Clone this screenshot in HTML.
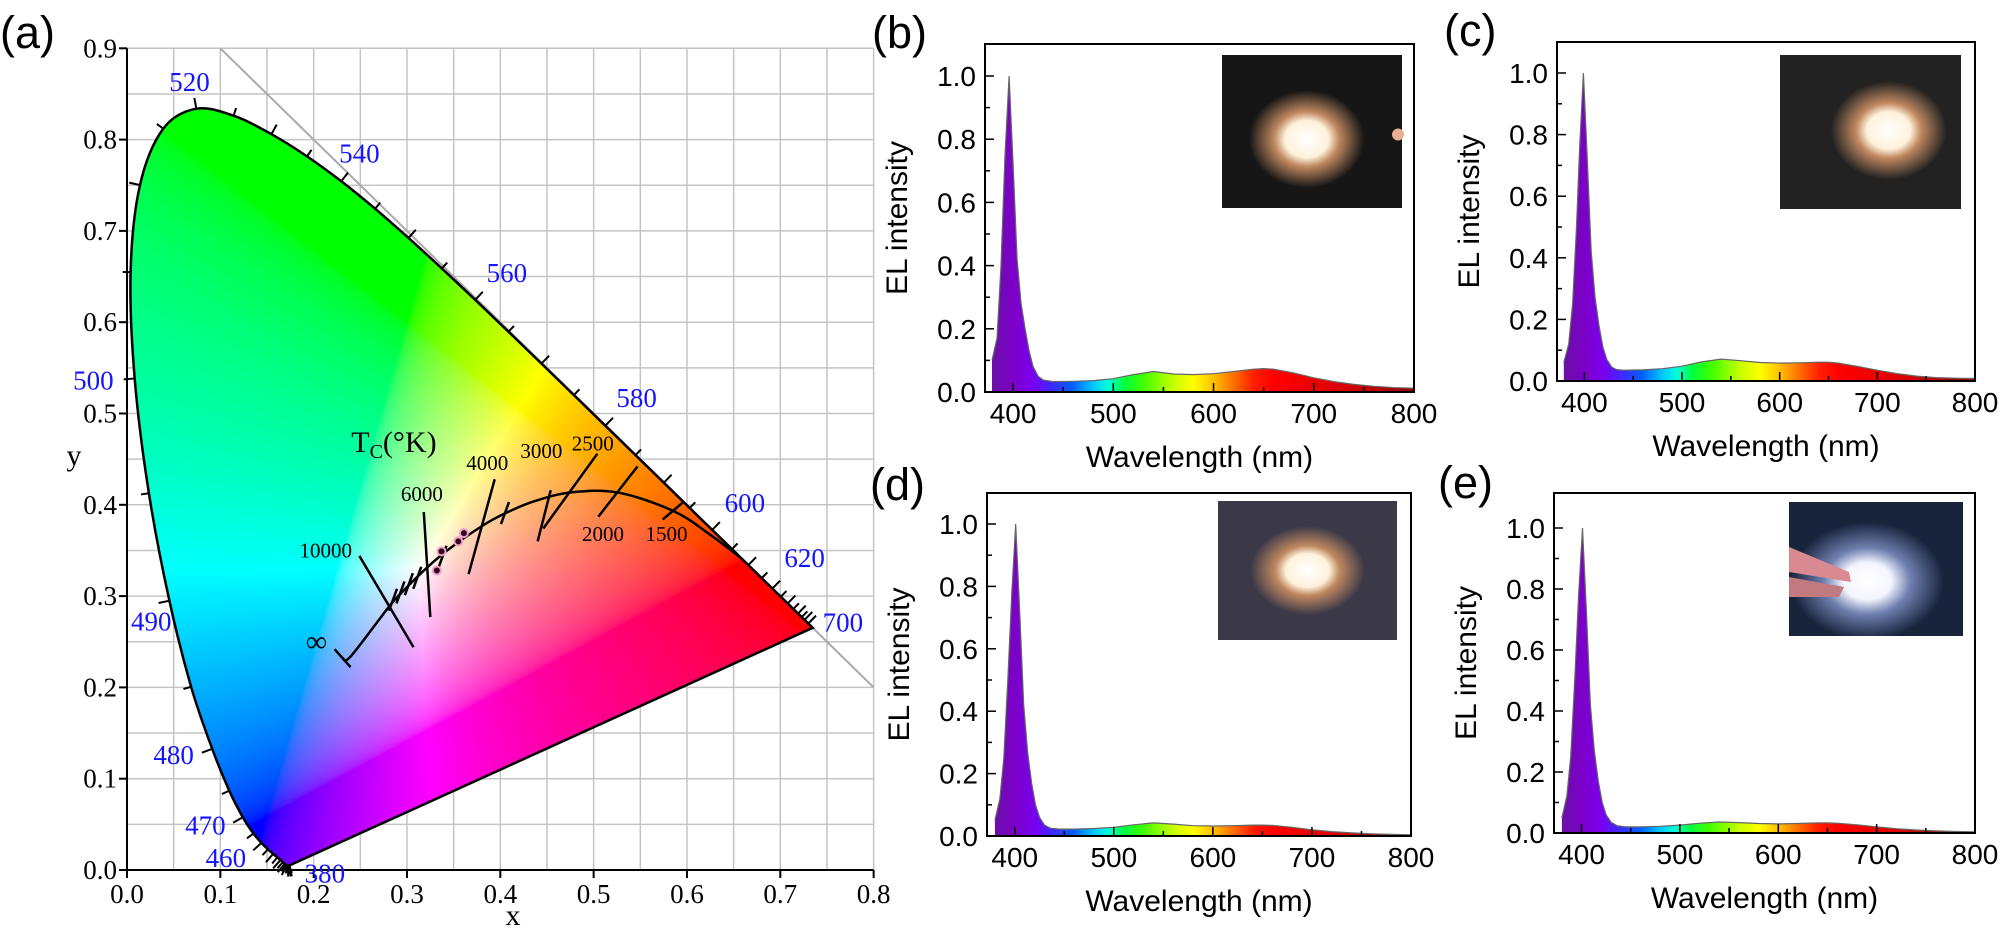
<!DOCTYPE html>
<html><head><meta charset="utf-8"><style>
html,body{margin:0;padding:0;background:#fff;}
#wrap{position:relative;width:2003px;height:935px;overflow:hidden;background:#fff;}
svg,canvas{position:absolute;left:0;top:0;}
</style></head><body>
<div id="wrap">
<svg id="bg" width="2003" height="935"></svg>
<canvas id="cv" width="2003" height="935"></canvas>
<svg id="fg" width="2003" height="935"></svg>
</div>
<script>
// ---------- CIE data ----------
const locusNm = [380,385,390,395,400,405,410,415,420,425,430,435,440,445,450,455,460,465,470,475,480,485,490,495,500,505,510,515,520,525,530,535,540,545,550,555,560,565,570,575,580,585,590,595,600,605,610,615,620,625,630,635,640,645,650,660,670,680,700];
const locusX = [0.1741,0.1740,0.1738,0.1736,0.1733,0.1730,0.1726,0.1721,0.1714,0.1703,0.1689,0.1669,0.1644,0.1611,0.1566,0.1510,0.1440,0.1355,0.1241,0.1096,0.0913,0.0687,0.0454,0.0235,0.0082,0.0039,0.0139,0.0389,0.0743,0.1142,0.1547,0.1929,0.2296,0.2658,0.3016,0.3373,0.3731,0.4087,0.4441,0.4788,0.5125,0.5448,0.5752,0.6029,0.6270,0.6482,0.6658,0.6801,0.6915,0.7006,0.7079,0.7140,0.7190,0.7230,0.7260,0.7300,0.7320,0.7334,0.7347];
const locusY = [0.0050,0.0050,0.0049,0.0049,0.0048,0.0048,0.0048,0.0048,0.0051,0.0058,0.0069,0.0086,0.0109,0.0138,0.0177,0.0227,0.0297,0.0399,0.0578,0.0868,0.1327,0.2007,0.2950,0.4127,0.5384,0.6548,0.7502,0.8120,0.8338,0.8262,0.8059,0.7816,0.7543,0.7243,0.6923,0.6589,0.6245,0.5896,0.5547,0.5202,0.4866,0.4544,0.4242,0.3965,0.3725,0.3514,0.3340,0.3197,0.3083,0.2993,0.2920,0.2859,0.2809,0.2770,0.2740,0.2700,0.2680,0.2666,0.2653];
const nmLabels = ["520","540","560","580","600","620","700","500","490","480","470","460","380"];
const nmLabelX = [0.067,0.249,0.407,0.546,0.662,0.726,0.767,-0.036,0.026,0.050,0.084,0.106,0.212];
const nmLabelY = [0.863,0.785,0.654,0.517,0.402,0.342,0.271,0.536,0.272,0.126,0.049,0.013,-0.004];
const planckX = [0.231,0.2399,0.2807,0.2952,0.3221,0.3451,0.3805,0.4053,0.4369,0.4769,0.5267,0.5857,0.625,0.66];
const planckY = [0.232,0.2342,0.2884,0.3048,0.3318,0.3516,0.3768,0.3907,0.4041,0.4137,0.4133,0.3931,0.367,0.340];
const isoLabels = ["10000","6000","4000","3000","2500","2000","1500"];
const isoX1 = [0.249,0.318,0.394,0.454,0.504,0.547,0.595];
const isoY1 = [0.344,0.392,0.428,0.416,0.456,0.442,0.402];
const isoX2 = [0.307,0.325,0.366,0.440,0.446,0.505,0.574];
const isoY2 = [0.244,0.277,0.324,0.360,0.374,0.387,0.384];
const isoLabelX = [0.213,0.316,0.386,0.444,0.499,0.510,0.578];
const isoLabelY = [0.350,0.412,0.446,0.459,0.467,0.368,0.368];
const smallTickX = [0.285,0.293,0.302,0.311,0.338,0.405];
const smallTickY = [0.296,0.304,0.313,0.320,0.343,0.391];
const sampleX = [0.332,0.337,0.355,0.361];
const sampleY = [0.328,0.349,0.360,0.369];
const axisXTicks = ["0.0","0.1","0.2","0.3","0.4","0.5","0.6","0.7","0.8"];
const axisYTicks = ["0.0","0.1","0.2","0.3","0.4","0.5","0.6","0.7","0.8","0.9"];

// ---------- spectra data ----------
const wlB = [379,384,388,392,396,400,404,408,412,416,420,425,430,440,460,480,500,520,540,560,580,600,620,640,650,660,680,700,720,740,760,780,800];
const ivB = [0.10,0.17,0.40,0.75,1.00,0.72,0.42,0.28,0.20,0.13,0.08,0.05,0.038,0.033,0.034,0.036,0.042,0.055,0.065,0.057,0.055,0.058,0.065,0.072,0.074,0.072,0.060,0.045,0.033,0.024,0.018,0.014,0.012];
const wlC = [379,384,388,392,395,399,403,407,411,415,419,423,428,433,440,460,480,500,520,540,560,580,600,620,640,650,660,680,700,720,740,760,780,800];
const ivC = [0.06,0.12,0.25,0.50,0.75,1.00,0.72,0.42,0.27,0.18,0.11,0.07,0.045,0.037,0.035,0.036,0.04,0.048,0.062,0.071,0.066,0.06,0.058,0.059,0.061,0.061,0.058,0.047,0.035,0.024,0.016,0.011,0.009,0.008];
const wlD = [380,385,389,393,397,401,405,409,413,417,421,425,430,436,445,460,480,500,520,540,560,580,600,620,640,650,660,680,700,720,740,760,780,800];
const ivD = [0.05,0.12,0.25,0.50,0.78,1.00,0.72,0.42,0.27,0.17,0.10,0.06,0.035,0.025,0.022,0.022,0.024,0.028,0.036,0.042,0.038,0.033,0.032,0.033,0.035,0.035,0.034,0.028,0.02,0.014,0.01,0.007,0.005,0.004];
const wlE = [380,385,389,393,397,401,405,409,413,417,421,425,430,436,445,460,480,500,520,540,560,580,600,620,640,650,660,680,700,720,740,760,780,800];
const ivE = [0.05,0.12,0.25,0.50,0.78,1.00,0.72,0.42,0.27,0.17,0.10,0.06,0.035,0.024,0.02,0.02,0.022,0.026,0.032,0.036,0.034,0.031,0.03,0.031,0.033,0.033,0.032,0.027,0.02,0.014,0.01,0.007,0.005,0.004];
const specXTicks = ["400","500","600","700","800"];
const specYTicks = ["0.0","0.2","0.4","0.6","0.8","1.0"];

const NS = "http://www.w3.org/2000/svg";
const bg = document.getElementById('bg'), fg = document.getElementById('fg');
function mk(parent, tag, attrs, text){
  const e = document.createElementNS(NS, tag);
  for (const k in attrs) e.setAttribute(k, attrs[k]);
  if (text !== undefined) e.textContent = text;
  parent.appendChild(e); return e;
}
const AX = d => 127 + d*933.3;
const AY = d => 870 - d*913;

// smooth path through points (Catmull-Rom)
function smoothPts(pts, closed){
  let s = 'M'+pts[0][0].toFixed(1)+','+pts[0][1].toFixed(1);
  const n = pts.length;
  for (let i=0;i<n-1;i++){
    const p0 = pts[Math.max(i-1,0)], p1=pts[i], p2=pts[i+1], p3=pts[Math.min(i+2,n-1)];
    const c1x=p1[0]+(p2[0]-p0[0])/6, c1y=p1[1]+(p2[1]-p0[1])/6;
    const c2x=p2[0]-(p3[0]-p1[0])/6, c2y=p2[1]-(p3[1]-p1[1])/6;
    s += ' C'+c1x.toFixed(1)+','+c1y.toFixed(1)+' '+c2x.toFixed(1)+','+c2y.toFixed(1)+' '+p2[0].toFixed(1)+','+p2[1].toFixed(1);
  }
  if (closed) s += ' Z';
  return s;
}
const locusPts = locusX.map((x,i)=>[AX(x),AY(locusY[i])]);
const locusD = smoothPts(locusPts,true);

// grid
for (let i=1;i<=16;i++){
  const g = mk(bg,'line',{x1:AX(i*0.05),x2:AX(i*0.05),y1:AY(0),y2:AY(0.9),stroke:'#c4c4c4','stroke-width':1.5});
  
  
}
for (let i=1;i<=18;i++){
  const g = mk(bg,'line',{x1:AX(0),x2:AX(0.8),y1:AY(i*0.05),y2:AY(i*0.05),stroke:'#c4c4c4','stroke-width':1.5});
  
  
}
const diag = mk(bg,'line',{x1:AX(0.1),y1:AY(0.9),x2:AX(0.8),y2:AY(0.2),stroke:'#aaaaaa','stroke-width':2});



// color fill on canvas
(function(){
  const cv = document.getElementById('cv'); const ctx = cv.getContext('2d');
  const x0=110,y0=90,w=720,h=790;
  const off = document.createElement('canvas'); off.width=w; off.height=h;
  const octx = off.getContext('2d'); const img = octx.createImageData(w,h);
  for (let py=0;py<h;py++){
    for (let px=0;px<w;px++){
      const dx = (x0+px-127)/933.3, dy = (870-(y0+py))/913;
      const yy = Math.max(dy,0.002);
      const X = dx/yy, Y=1, Z=(1-dx-yy)/yy;
      let r = 3.2406*X-1.5372*Y-0.4986*Z, g=-0.9689*X+1.8758*Y+0.0415*Z, b=0.0557*X-0.2040*Y+1.0570*Z;
      r=Math.max(r,0); g=Math.max(g,0); b=Math.max(b,0);
      const mx = Math.max(r,g,b)||1; r/=mx; g/=mx; b/=mx;
      const gm = v => Math.round(255*Math.pow(v,1/2.2));
      const k=(py*w+px)*4; img.data[k]=gm(r); img.data[k+1]=gm(g); img.data[k+2]=gm(b); img.data[k+3]=255;
    }
  }
  octx.putImageData(img,0,0);
  const p = new Path2D(locusD);
  ctx.save(); ctx.clip(p); ctx.drawImage(off,x0,y0); ctx.restore();
})();

let e;
e = mk(fg,'line',{x1:AX(0),y1:AY(0),x2:AX(0),y2:AY(0.9),stroke:'#000','stroke-width':2});
 
e = mk(fg,'line',{x1:AX(0),y1:AY(0),x2:AX(0.8),y2:AY(0),stroke:'#000','stroke-width':2});
 
axisXTicks.forEach((t,i)=>{
  const d=i*0.1;
  const tk = mk(fg,'line',{x1:AX(d),x2:AX(d),y1:AY(0),y2:AY(0)+8,stroke:'#000','stroke-width':2});
   
  const lb = mk(fg,'text',{x:AX(d),y:AY(0)+33,'text-anchor':'middle','font-family':'"Liberation Serif",serif','font-size':27},t);
   
});
axisYTicks.forEach((t,i)=>{
  const d=i*0.1;
  const tk = mk(fg,'line',{x1:AX(0)-8,x2:AX(0),y1:AY(d),y2:AY(d),stroke:'#000','stroke-width':2});
   
  const lb = mk(fg,'text',{x:AX(0)-10,y:AY(d)+9,'text-anchor':'end','font-family':'"Liberation Serif",serif','font-size':27},t);
   
});
e = mk(fg,'text',{x:513,y:925,'text-anchor':'middle','font-family':'"Liberation Serif",serif','font-size':30},'x');
 
e = mk(fg,'text',{x:74,y:465,'text-anchor':'middle','font-family':'"Liberation Serif",serif','font-size':30},'y');
 

e = mk(fg,'path',{d:locusD,fill:'none',stroke:'#000','stroke-width':2.5});
 
for (let i=1;i<locusX.length-1;i++){
  if (locusNm[i]>660 || locusNm[i]%5) continue;
  const ax=AX(locusX[i-1]),ay=AY(locusY[i-1]),bx=AX(locusX[i+1]),by=AY(locusY[i+1]);
  let nx=-(by-ay), ny=(bx-ax); const L=Math.hypot(nx,ny)||1; nx/=L; ny/=L;
  const px=AX(locusX[i]),py=AY(locusY[i]);
  const cx=AX(0.33),cy=AY(0.33);
  if ((px-cx)*nx+(py-cy)*ny<0){nx=-nx;ny=-ny;}
  const len = locusNm[i]%10===0?11:8;
  const tk = mk(fg,'line',{x1:px,y1:py,x2:px+nx*len,y2:py+ny*len,stroke:'#000','stroke-width':2});
   
}
nmLabels.forEach((t,i)=>{
  const lb = mk(fg,'text',{x:AX(nmLabelX[i]),y:AY(nmLabelY[i])+9,'text-anchor':'middle','font-family':'"Liberation Serif",serif','font-size':27,fill:'#1414ff'},t);
   
});
e = mk(fg,'path',{d:smoothPts(planckX.map((x,i)=>[AX(x),AY(planckY[i])]),false),fill:'none',stroke:'#000','stroke-width':2.5});
 
e = mk(fg,'line',{x1:AX(planckX[0])-8,y1:AY(planckY[0])-9,x2:AX(planckX[0])+8,y2:AY(planckY[0])+9,stroke:'#000','stroke-width':2.5});
 
isoLabels.forEach((t,i)=>{
  const l = mk(fg,'line',{x1:AX(isoX1[i]),y1:AY(isoY1[i]),x2:AX(isoX2[i]),y2:AY(isoY2[i]),stroke:'#000','stroke-width':2.5});
   
  const lb = mk(fg,'text',{x:AX(isoLabelX[i]),y:AY(isoLabelY[i])+7,'text-anchor':'middle','font-family':'"Liberation Serif",serif','font-size':21},t);
   
});
smallTickX.forEach((x,i)=>{
  const l = mk(fg,'line',{x1:AX(x)+4,y1:AY(smallTickY[i])-11,x2:AX(x)-4,y2:AY(smallTickY[i])+11,stroke:'#000','stroke-width':2.5});
   
});
sampleX.forEach((x,i)=>{
  const c = mk(fg,'circle',{cx:AX(x),cy:AY(sampleY[i]),r:4,fill:'#300020',stroke:'#f0a0c8','stroke-width':2});
   
});
e = mk(fg,'text',{x:AX(0.286),y:AY(0.469)+10,'text-anchor':'middle','font-family':'"Liberation Serif",serif','font-size':30});
 
mk(e,'tspan',{},'T'); mk(e,'tspan',{'font-size':20,dy:6},'C'); mk(e,'tspan',{dy:-6},'(°K)');
e = mk(fg,'text',{x:AX(0.203),y:AY(0.248)+8,'text-anchor':'middle','font-family':'"Liberation Serif",serif','font-size':30},'∞');
 

[['(a)',0,48],['(b)',872,48],['(c)',1444,46],['(d)',870,500],['(e)',1438,498]].forEach(p=>{
  const t = mk(fg,'text',{x:p[1],y:p[2],'font-family':'"Liberation Sans",sans-serif','font-size':45},p[0]);
   
});

// ---------- spectra ----------
const defs = mk(fg,'defs',{});
const stopsNm = [380,400,420,440,460,480,495,510,530,560,580,600,620,640,660,720,800];
const stopsCol = ['#6a10a8','#7c00c8','#7a00f0','#3a2cff','#0060ff','#00c8ff','#00ffd8','#00ff40','#40ff00','#c8ff00','#ffff00','#ffc000','#ff7000','#ff2000','#ff0000','#e00000','#9a0000'];
const panels = [
  {id:'b',l:985,t:44,r:1414,b:392,y0:392,y1:76,wl:wlB,iv:ivB,ins:[1222,55,180,153]},
  {id:'c',l:1557,t:42,r:1975,b:381,y0:381,y1:73,wl:wlC,iv:ivC,ins:[1780,55,181,154]},
  {id:'d',l:987,t:493,r:1411,b:836,y0:836,y1:524,wl:wlD,iv:ivD,ins:[1218,501,179,139]},
  {id:'e',l:1554,t:493,r:1975,b:833,y0:833,y1:528,wl:wlE,iv:ivE,ins:[1789,502,174,134]}
];
panels.forEach(P=>{
  const X = w => P.l + (w-372)/(800-372)*(P.r-P.l);
  const Y = v => P.y0 + (P.y1-P.y0)*v;
  const g = mk(fg,'g',{});
   
  const grad = mk(defs,'linearGradient',{id:'rg'+P.id,gradientUnits:'userSpaceOnUse',x1:X(380),x2:X(800),y1:0,y2:0});
  stopsNm.forEach((n,i)=>mk(grad,'stop',{offset:((n-380)/420).toFixed(3),'stop-color':stopsCol[i]}));
  let pd = 'M'+X(P.wl[0])+','+Y(0);
  P.wl.forEach((w,i)=>{ pd += ' L'+X(w).toFixed(1)+','+Y(P.iv[i]).toFixed(1); });
  pd += ' L'+X(800)+','+Y(0)+' Z';
  e = mk(g,'path',{d:pd,fill:'url(#rg'+P.id+')',stroke:'none'});
   
  let ld = P.wl.map((w,i)=>(i?'L':'M')+X(w).toFixed(1)+','+Y(P.iv[i]).toFixed(1)).join(' ');
  e = mk(g,'path',{d:ld,fill:'none',stroke:'#666','stroke-width':1.2});
   
  e = mk(g,'rect',{x:P.l,y:P.t,width:P.r-P.l,height:P.b-P.t,fill:'none',stroke:'#000','stroke-width':2});
   
  for (let w=400; w<=800; w+=50){
    const major = w%100===0;
    const tk = mk(g,'line',{x1:X(w),x2:X(w),y1:P.b,y2:P.b-(major?9:5),stroke:'#000','stroke-width':1.5});
     
  }
  specXTicks.forEach(t=>{
    const lb = mk(g,'text',{x:X(+t),y:P.b+31,'text-anchor':'middle','font-family':'"Liberation Sans",sans-serif','font-size':28},t);
     
  });
  for (let k=0;k<=10;k++){
    const v=k*0.1, major=k%2===0;
    const tk = mk(g,'line',{x1:P.l,x2:P.l+(major?9:5),y1:Y(v),y2:Y(v),stroke:'#000','stroke-width':1.5});
     
  }
  specYTicks.forEach(t=>{
    const lb = mk(g,'text',{x:P.l-9,y:Y(+t)+10,'text-anchor':'end','font-family':'"Liberation Sans",sans-serif','font-size':28},t);
     
  });
  const cx=(P.l+P.r)/2, cy=(P.t+P.b)/2;
  e = mk(g,'text',{x:cx,y:P.b+75,'text-anchor':'middle','font-family':'"Liberation Sans",sans-serif','font-size':30},'Wavelength (nm)');
   
  e = mk(g,'text',{x:0,y:0,'text-anchor':'middle','font-family':'"Liberation Sans",sans-serif','font-size':30,transform:'translate('+(P.l-78)+','+cy+') rotate(-90)'},'EL intensity');
   
  const [ix,iy,iw,ih] = P.ins;
  const bgc = {b:'#161616',c:'#222222',d:'#3b3948',e:'#18233c'}[P.id];
  const gc = {b:[0.47,0.55],c:[0.6,0.49],d:[0.5,0.5],e:[0.45,0.59]}[P.id];
  const rg = mk(defs,'radialGradient',{id:'ph'+P.id,cx:gc[0],cy:gc[1],r:P.id==='e'?0.55:0.4});
  mk(rg,'stop',{offset:0,'stop-color':'#ffffff'});
  mk(rg,'stop',{offset:P.id==='e'?0.25:0.3,'stop-color':P.id==='e'?'#f4f6ff':'#fff2dc'});
  mk(rg,'stop',{offset:0.45,'stop-color':P.id==='e'?'#7080b0':'#c08860'});
  mk(rg,'stop',{offset:0.8,'stop-color':bgc});
  mk(rg,'stop',{offset:1,'stop-color':bgc});
  const ph = mk(g,'g',{});
   
  mk(ph,'rect',{x:ix,y:iy,width:iw,height:ih,fill:bgc});
  mk(ph,'rect',{x:ix,y:iy,width:iw,height:ih,fill:'url(#ph'+P.id+')'});
  if (P.id==='b') mk(ph,'circle',{cx:ix+iw-4,cy:iy+ih*0.52,r:6,fill:'#e8b090'});
  if (P.id==='e'){
    mk(ph,'path',{d:'M'+ix+','+(iy+45)+' L'+(ix+60)+','+(iy+70)+' L'+(ix+62)+','+(iy+80)+' L'+ix+','+(iy+70)+' Z',fill:'#d88a90'});
    mk(ph,'path',{d:'M'+ix+','+(iy+75)+' L'+(ix+55)+','+(iy+85)+' L'+(ix+50)+','+(iy+95)+' L'+ix+','+(iy+95)+' Z',fill:'#c07a80'});
  }
});
</script>
</body></html>
